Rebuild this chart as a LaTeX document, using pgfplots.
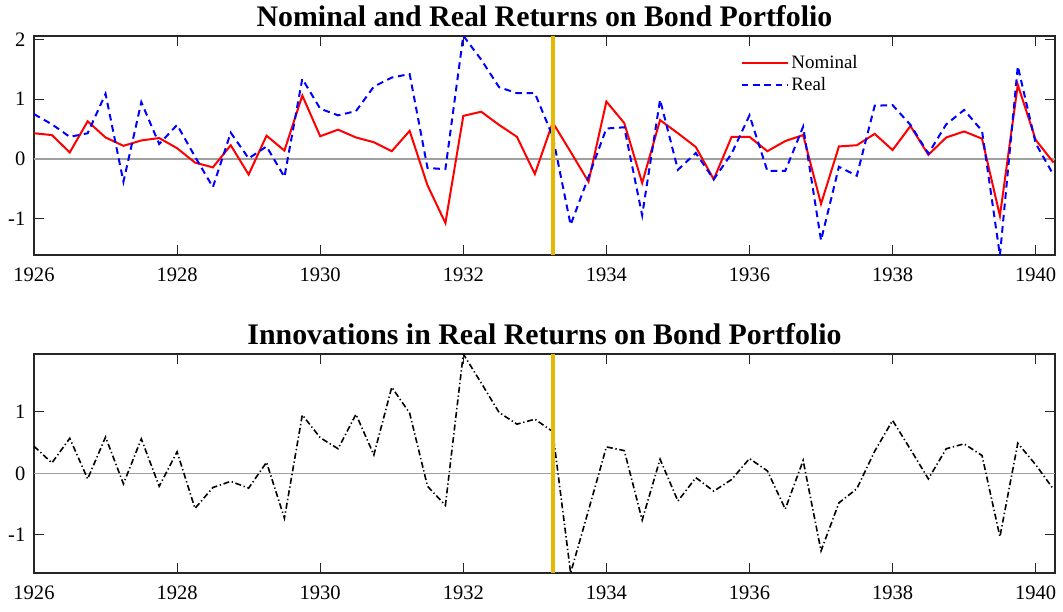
\documentclass[border=0pt]{standalone}
\usepackage{fontspec}
\setmainfont{Liberation Serif}
\usepackage{pgfplots}
\pgfplotsset{compat=1.18}
\usepackage{pgfplotstable}
\definecolor{axgray}{RGB}{38,38,38}
\definecolor{zerogray}{RGB}{160,160,160}
\definecolor{gold}{RGB}{230,184,0}
\definecolor{nomred}{RGB}{255,0,0}
\definecolor{realblue}{RGB}{0,0,255}

\pgfplotstableread{
x nom real innov
1926.00 0.43 0.75 0.44
1926.25 0.40 0.58 0.17
1926.50 0.11 0.37 0.57
1926.75 0.63 0.43 -0.09
1927.00 0.36 1.09 0.59
1927.25 0.22 -0.38 -0.17
1927.50 0.31 0.95 0.56
1927.75 0.35 0.25 -0.21
1928.00 0.18 0.57 0.35
1928.25 -0.06 0.04 -0.57
1928.50 -0.14 -0.47 -0.23
1928.75 0.23 0.44 -0.13
1929.00 -0.26 0.01 -0.24
1929.25 0.39 0.21 0.18
1929.50 0.14 -0.30 -0.73
1929.75 1.06 1.34 0.95
1930.00 0.38 0.84 0.58
1930.25 0.49 0.73 0.40
1930.50 0.36 0.80 0.96
1930.75 0.28 1.21 0.30
1931.00 0.13 1.36 1.40
1931.25 0.47 1.42 0.98
1931.50 -0.44 -0.15 -0.21
1931.75 -1.07 -0.17 -0.52
1932.00 0.72 2.06 1.94
1932.25 0.79 1.66 1.47
1932.50 0.57 1.20 0.99
1932.75 0.37 1.10 0.80
1933.00 -0.25 1.10 0.88
1933.25 0.61 0.38 0.68
1933.50 0.12 -1.10 -1.62
1933.75 -0.38 -0.30 -0.60
1934.00 0.96 0.51 0.43
1934.25 0.60 0.53 0.37
1934.50 -0.40 -0.94 -0.76
1934.75 0.65 0.99 0.23
1935.00 0.43 -0.18 -0.45
1935.25 0.20 0.10 -0.07
1935.50 -0.34 -0.34 -0.29
1935.75 0.37 0.09 -0.10
1936.00 0.37 0.73 0.24
1936.25 0.13 -0.20 0.04
1936.50 0.30 -0.20 -0.58
1936.75 0.40 0.54 0.21
1937.00 -0.75 -1.36 -1.26
1937.25 0.21 -0.13 -0.48
1937.50 0.23 -0.28 -0.25
1937.75 0.42 0.89 0.36
1938.00 0.15 0.90 0.86
1938.25 0.55 0.57 0.39
1938.50 0.07 0.09 -0.09
1938.75 0.36 0.58 0.40
1939.00 0.46 0.82 0.48
1939.25 0.34 0.47 0.29
1939.50 -0.95 -1.61 -1.03
1939.75 1.24 1.55 0.49
1940.00 0.32 0.26 0.14
1940.25 -0.06 -0.27 -0.26
}\data

\pgfplotsset{
  myaxis/.style={
    scale only axis, width=765.75pt, height=164.25pt,
    xmin=1926, xmax=1940.27,
    xtick={1926,1928,...,1940},
    tick align=inside, major tick length=7.5pt,
    axis line style={axgray, line width=0.9pt},
    tick style={axgray, line width=0.75pt},
    /pgf/number format/1000 sep={},
    /pgf/number format/assume math mode=true,
    ticklabel style={font=\fontsize{15.4}{18}\selectfont},
    xticklabel style={yshift=-6pt},
    yticklabel style={xshift=-3pt},
    title style={font=\fontsize{22.4}{26}\selectfont\bfseries, at={(0.5,1)}, anchor=base, yshift=1.5pt},
  }
}

\begin{document}
\begin{tikzpicture}
\useasboundingbox (0,0) rectangle (797.25pt,-458.25pt);
\begin{axis}[myaxis,
  at={(25.5pt,-27pt)}, anchor=north west,
  ymin=-1.604, ymax=2.055, ytick={-1,0,1,2},
  title={Nominal and Real Returns on Bond Portfolio},
  legend style={at={(0.692,0.925)}, anchor=north west, draw=none, fill=none,
    font=\fontsize{14.2}{16}\selectfont, row sep=1pt, inner sep=0pt},
  legend cell align=left,
  legend image code/.code={\draw[#1] (0pt,0pt) -- (34.5pt,0pt);},
]
\addplot[zerogray, line width=1.1pt, forget plot] coordinates {(1926,0) (1940.27,0)};
\addplot[nomred, line width=1.5pt] table[x=x, y=nom] {\data};
\addlegendentry{Nominal}
\addplot[realblue, line width=1.5pt, dash pattern=on 5pt off 3.5pt] table[x=x, y=real] {\data};
\addlegendentry{Real}
\addplot[gold, line width=3pt, forget plot] coordinates {(1933.25,-1.604) (1933.25,2.055)};
\end{axis}
\begin{axis}[myaxis,
  at={(25.5pt,-265.5pt)}, anchor=north west,
  ymin=-1.62, ymax=1.94, ytick={-1,0,1},
  title={Innovations in Real Returns on Bond Portfolio},
]
\addplot[zerogray, line width=1.1pt] coordinates {(1926,0) (1940.27,0)};
\addplot[black, line width=1.2pt, dash pattern=on 4.5pt off 2pt on 1pt off 2pt] table[x=x, y=innov] {\data};
\addplot[gold, line width=3pt] coordinates {(1933.25,-1.62) (1933.25,1.94)};
\end{axis}
\end{tikzpicture}
\end{document}
